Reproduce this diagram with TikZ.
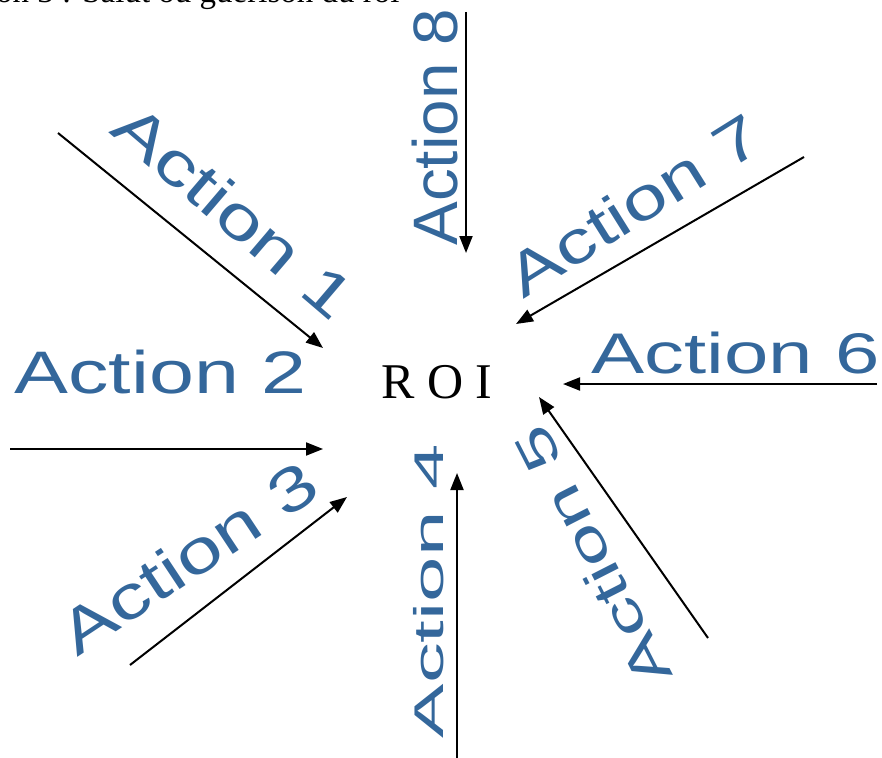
\documentclass[tikz,border=0pt]{standalone}
\usepackage{fontspec}
\setmainfont{Liberation Serif}
\newfontfamily\lblfont{Liberation Sans}
\usetikzlibrary{arrows.meta}
\definecolor{actblue}{RGB}{52,103,155}
\tikzset{
  act/.style={font=\lblfont\fontsize{10}{12}\selectfont, text=actblue, inner sep=0pt, anchor=base west},
  flow/.style={draw=black, line width=2pt, -{Triangle[length=17pt,width=13pt]}}
}
\begin{document}
\begin{tikzpicture}[x=1pt,y=-1pt]
\useasboundingbox (0,0) rectangle (882,757);
\clip (0,0) rectangle (882,757);
% title (cut off at top)
\node[font=\fontsize{33}{40}\selectfont, inner sep=0pt, anchor=base west] (title) at (-4,3) {on 3 : Salut ou guérison du roi};
% centre
\node[font=\fontsize{50}{60}\selectfont, inner sep=0pt, anchor=base west] (roi) at (381,398) {R O I};
% labels
\node[act, rotate=-40.5, xscale=8.15, yscale=6.1] (t1) at (107,131) {Action 1};
\node[act, xscale=8.08, yscale=6.0] (t2) at (13,393) {Action 2};
\node[act, rotate=33.5, xscale=8.15, yscale=6.15] (t3) at (76,658) {Action 3};
\node[act, rotate=90, xscale=8.16, yscale=4.15] (t4) at (443,740) {Action 4};
\node[act, rotate=117, xscale=7.9, yscale=5.1] (t5) at (674,677) {Action 5};
\node[act, xscale=7.97, yscale=5.73] (t6) at (590,373) {Action 6};
\node[act, rotate=32, xscale=7.95, yscale=6.0] (t7) at (522,300) {Action 7};
\node[act, rotate=90, xscale=6.56, yscale=6.28] (t8) at (457,247) {Action 8};
% arrow ends
\coordinate (a1s) at (58,133);  \coordinate (a1e) at (323,348);
\coordinate (a2s) at (10,449);  \coordinate (a2e) at (323,449);
\coordinate (a3s) at (130,665); \coordinate (a3e) at (347,497);
\coordinate (a4s) at (457,760); \coordinate (a4e) at (457,473);
\coordinate (a5s) at (708,638); \coordinate (a5e) at (539,397);
\coordinate (a6s) at (877,384); \coordinate (a6e) at (563,384);
\coordinate (a7s) at (804,157); \coordinate (a7e) at (516,324);
\coordinate (a8s) at (466,12);  \coordinate (a8e) at (466,253);
\draw[flow] (a1s) -- (a1e);
\draw[flow] (a2s) -- (a2e);
\draw[flow] (a3s) -- (a3e);
\draw[flow] (a4s) -- (a4e);
\draw[flow] (a5s) -- (a5e);
\draw[flow] (a6s) -- (a6e);
\draw[flow] (a7s) -- (a7e);
\draw[flow] (a8s) -- (a8e);
\end{tikzpicture}
\end{document}
